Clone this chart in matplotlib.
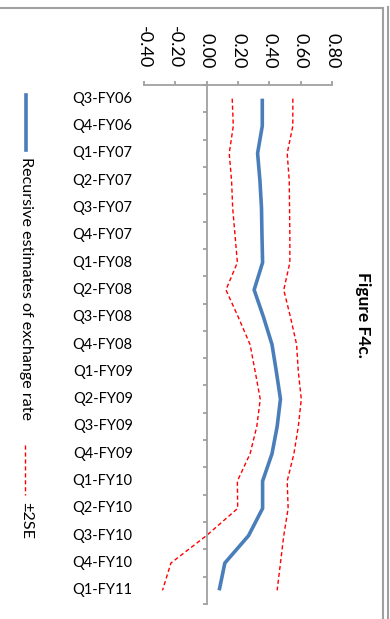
import matplotlib
matplotlib.use("Agg")
import matplotlib.pyplot as plt
from matplotlib.lines import Line2D
import numpy as np

plt.rcParams['font.family'] = ['Lato', 'DejaVu Sans']

categories = ["Q3-FY06", "Q4-FY06", "Q1-FY07", "Q2-FY07", "Q3-FY07", "Q4-FY07",
              "Q1-FY08", "Q2-FY08", "Q3-FY08", "Q4-FY08", "Q1-FY09", "Q2-FY09",
              "Q3-FY09", "Q4-FY09", "Q1-FY10", "Q2-FY10", "Q3-FY10", "Q4-FY10", "Q1-FY11"]
estimate = [0.355, 0.355, 0.325, 0.34, 0.35, 0.353, 0.357, 0.303, 0.363, 0.417,
            0.445, 0.471, 0.45, 0.417, 0.357, 0.357, 0.267, 0.116, 0.08]
lower = [0.163, 0.17, 0.144, 0.159, 0.166, 0.181, 0.196, 0.123, 0.202, 0.277,
         0.31, 0.342, 0.32, 0.277, 0.196, 0.198, -0.002, -0.228, -0.282]
upper = [0.55, 0.55, 0.514, 0.527, 0.529, 0.531, 0.531, 0.492, 0.535, 0.574,
         0.585, 0.604, 0.585, 0.557, 0.514, 0.52, 0.492, 0.471, 0.45]
value_ticks = [-0.40, -0.20, 0.00, 0.20, 0.40, 0.60, 0.80]

W, H = 390, 619
fig = plt.figure(figsize=(W / 100, H / 100), dpi=100)

def px(x0, y0, x1, y1):
    return [x0 / W, 1 - y1 / H, (x1 - x0) / W, (y1 - y0) / H]

ax = fig.add_axes(px(144, 85, 332, 604))
y = np.arange(len(categories))
ax.plot(estimate, y, color='#4a7ebb', lw=2.6, solid_capstyle='butt')
ax.plot(lower, y, color='#ff0000', lw=1.0, ls=(0, (3, 2)))
ax.plot(upper, y, color='#ff0000', lw=1.0, ls=(0, (3, 2)))

ax.set_xlim(-0.40, 0.80)
ax.set_ylim(len(categories) - 0.5, -0.5)

for s in ['right', 'bottom']:
    ax.spines[s].set_visible(False)
ax.spines['top'].set_color('#a0a0a0')
ax.spines['top'].set_linewidth(1.3)
ax.spines['left'].set_position(('data', 0))
ax.spines['left'].set_color('#a0a0a0')
ax.spines['left'].set_linewidth(1.3)

ax.xaxis.set_ticks_position('top')
ax.set_xticks(value_ticks)
ax.set_xticklabels([f"{v:.2f}" for v in value_ticks], rotation=-90, fontsize=13)
ax.tick_params(axis='x', direction='out', length=3, color='#a0a0a0', width=1.3, pad=9)

ax.set_yticks(np.arange(-0.5, len(categories), 1.0))
ax.set_yticklabels([])
ax.tick_params(axis='y', direction='out', length=3, color='#a0a0a0', width=1.3)

tr = ax.get_yaxis_transform()
for i, c in enumerate(categories):
    ax.text(-0.06, i, c, transform=tr, ha='right', va='center', fontsize=10.5)

fig.text(363 / W, 1 - 315 / H, "Figure F4c.", rotation=-90, fontsize=12.5,
         fontweight='bold', ha='center', va='center')

# legend
fig.add_artist(Line2D([26 / W, 26 / W], [1 - 95 / H, 1 - 150 / H], color='#4a7ebb', lw=2.6))
fig.text(26 / W, 1 - 157 / H, "Recursive estimates of exchange rate", rotation=-90,
         fontsize=11.6, ha='center', va='top')
fig.add_artist(Line2D([25 / W, 25 / W], [1 - 445 / H, 1 - 495 / H], color='#ff0000',
                      lw=1.0, ls=(0, (3, 2))))
fig.text(26 / W, 1 - 502 / H, "±2SE", rotation=-90, fontsize=11.6, ha='center', va='top')

# page border lines
fig.add_artist(Line2D([0, 383 / W], [1 - 8 / H, 1 - 8 / H], color='#a0a0a0', lw=1.5))
fig.add_artist(Line2D([383 / W, 383 / W], [1 - 8 / H, 0], color='#a0a0a0', lw=1.5))
fig.add_artist(Line2D([388 / W, 388 / W], [1 - 7 / H, 0], color='#a0a0a0', lw=1.5))

fig.savefig("out.png", dpi=100)
